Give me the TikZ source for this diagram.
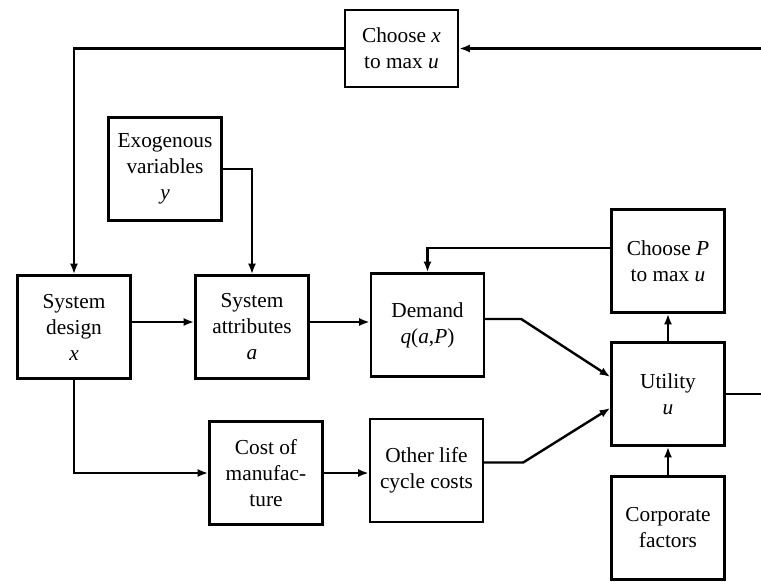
\documentclass[tikz,border=0pt]{standalone}
\usepackage{fontspec}
\setmainfont{Liberation Serif}
\usetikzlibrary{arrows.meta,calc}
\begin{document}
\begin{tikzpicture}[x=0.75pt,y=-0.75pt,font=\fontsize{16}{19.5}\selectfont,box/.style={draw,line width=1.8pt,align=center,minimum width=84.75pt,minimum height=77.25pt,inner sep=2pt},arr/.style={-{Latex[length=8pt,width=6pt]},line width=1.8pt}]
\useasboundingbox (0,0) rectangle (761,582);
\node[box,minimum height=57.75pt] (choosex) at (401.5,48.5) {Choose \textit{x}\\to max \textit{u}};
\node[box] (exo) at (165,169) {Exogenous\\variables\\\textit{y}};
\node[box] (sysdes) at (74,327) {System\\design\\\textit{x}};
\node[box] (sysatt) at (252,327) {System\\attributes\\\textit{a}};
\node[box] (demand) at (427.5,325) {Demand\\\textit{q}(\textit{a},\textit{P})};
\node[box] (chooseP) at (668,261) {Choose \textit{P}\\to max \textit{u}};
\node[box] (util) at (668,394) {Utility\\\textit{u}};
\node[box] (corp) at (668,528) {Corporate\\factors};
\node[box] (cost) at (266,473) {Cost of\\manufac-\\ture};
\node[box] (other) at (426.5,470.5) {Other life\\cycle costs};
\coordinate (ret) at (767,200);
\draw[arr] (choosex.west) -| (sysdes.north);\draw[arr] (util.east) -| (ret) |- (choosex.east);
\draw[arr] (exo.east) -| (sysatt.north);\draw[arr] ($(chooseP.west)+(0,-13)$) -| (demand.north);
\draw[arr] ($(sysdes.east)+(0,-5)$) -- ($(sysatt.west)+(0,-5)$);\draw[arr] ($(sysatt.east)+(0,-5)$) -- ($(demand.west)+(0,-3)$);
\draw[arr] ($(demand.east)+(0,-6)$) -- ++(36,0) -- ($(util.west)+(0,-17)$);
\draw[arr] ($(other.east)+(0,-8)$) -- ++(39,0) -- ($(util.west)+(0,14)$);
\draw[arr] (sysdes.south) |- (cost.west);\draw[arr] (cost.east) -- (cost.east -| other.west);
\draw[arr] (util.north) -- (chooseP.south);\draw[arr] (corp.north) -- (util.south);
\end{tikzpicture}
\end{document}
